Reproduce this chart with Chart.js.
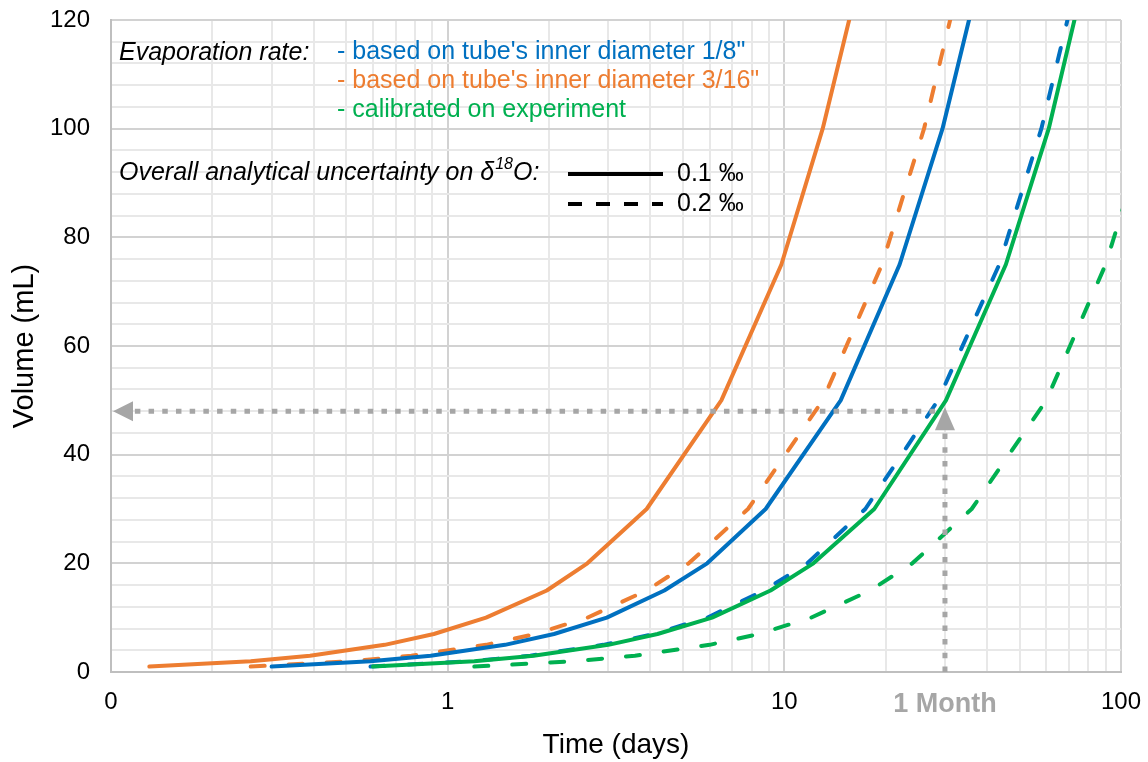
<!DOCTYPE html>
<html>
<head>
<meta charset="utf-8">
<title>Evaporation volume vs time</title>
<script src="https://cdn.jsdelivr.net/npm/chart.js@4.4.1/dist/chart.umd.min.js"></script>
<style>
    html, body { margin: 0; padding: 0; background: #fff; }
    #wrap { width: 1148px; height: 762px; }
</style>
</head>
<body>
<div id="wrap"><canvas id="evapChart" width="1148" height="762"></canvas></div>
<script>
// Volume (mL) at each vertex of the curves
const volumes = [1, 2, 3, 5, 7, 10, 15, 20, 30, 50, 75, 100, 125];

// Time (days) for each curve, same order as volumes
const daysOrangeSolid = [0.13, 0.26, 0.39, 0.65, 0.91, 1.3, 1.97, 2.6, 3.9, 6.5, 9.8, 13, 16.3];
const daysOrangeDashed = [0.26, 0.52, 0.78, 1.3, 1.82, 2.6, 3.9, 5.2, 7.8, 13, 19.5, 26, 32.5];
const daysBlueSolid = [0.3, 0.59, 0.89, 1.48, 2.07, 2.97, 4.4, 5.9, 8.8, 14.7, 22, 29.5, 37];
const daysBlueDashed = [0.59, 1.17, 1.76, 2.9, 4.1, 5.9, 8.7, 11.7, 17.4, 28.6, 43.5, 58, 72.5];
const daysGreenSolid = [0.6, 1.2, 1.8, 3.0, 4.2, 6.1, 9.1, 12.2, 18.5, 30.2, 45.5, 61, 76];
const daysGreenDashed = [1.2, 2.4, 3.6, 6.0, 8.4, 12, 18, 24, 36, 60, 90, 120, 150];

// Axis ticks
const xTickValues = [0.1, 1, 10, 30, 100];
const xTickLabels = ['0', '1', '10', '1 Month', '100'];
const yTickLabels = [0, 20, 40, 60, 80, 100, 120];

// "1 Month" read-off
const monthDays = 30;
const monthVolume = 48;

// Legend texts
const rateTitle = 'Evaporation rate:';
const rateLabels = [
    '- based on tube\'s inner diameter 1/8"',
    '- based on tube\'s inner diameter 3/16"',
    '- calibrated on experiment'
];
const uncertaintyLabels = ['0.1 \u2030', '0.2 \u2030'];

const BLUE = '#0070C0';
const ORANGE = '#ED7D31';
const GREEN = '#00B050';
const GREY = '#a6a6a6';
const FONT = '"Liberation Sans", Arial, sans-serif';

Chart.defaults.font.family = FONT;
Chart.defaults.color = '#000';

function toPoints(days) {
    return days.map((d, i) => ({ x: d, y: volumes[i] }));
}

function curve(days, color, dashed) {
    return {
        data: toPoints(days),
        borderColor: color,
        backgroundColor: color,
        borderWidth: 4,
        borderDash: dashed ? [14, 24] : [],
        borderCapStyle: 'round',
        borderJoinStyle: 'round',
        pointRadius: 0,
        tension: 0,
        fill: false
    };
}

// gridlines for the log axis: 1..9 of every decade
function logGridValues(min, max) {
    const vals = [];
    for (let dec = min; dec < max; dec *= 10) {
        for (let k = 1; k < 10; k++) vals.push(parseFloat((k * dec).toPrecision(6)));
    }
    vals.push(max);
    return vals;
}

function isDecade(v) {
    const l = Math.log10(v);
    return Math.abs(l - Math.round(l)) < 1e-6;
}

function xLabelFor(v) {
    const i = xTickValues.findIndex(t => Math.abs(t - v) < 1e-6);
    return i >= 0 ? xTickLabels[i] : '';
}

// keep tick labels from pushing the plot area inwards
function noOverflow(scale) {
    scale.paddingTop = 0;
    scale.paddingBottom = 0;
    scale.paddingLeft = 0;
    scale.paddingRight = 0;
}

const overlayPlugin = {
    id: 'overlay',
    afterDatasetsDraw(chart) {
        const { ctx, scales: { x, y } } = chart;
        const px = x.getPixelForValue(monthDays);
        const py = y.getPixelForValue(monthVolume);
        const bottom = y.getPixelForValue(0);
        const left = x.left;

        ctx.save();
        ctx.strokeStyle = GREY;
        ctx.fillStyle = GREY;
        ctx.lineWidth = 5;
        ctx.setLineDash([5.5, 8.2]);
        // vertical dotted line up to the curve
        ctx.beginPath();
        ctx.moveTo(px, bottom);
        ctx.lineTo(px, py + 18);
        ctx.stroke();
        // horizontal dotted line back to the volume axis
        ctx.beginPath();
        ctx.moveTo(px - 10, py);
        ctx.lineTo(left + 22, py);
        ctx.stroke();
        ctx.setLineDash([]);
        // arrow heads
        ctx.beginPath();
        ctx.moveTo(px, py - 4);
        ctx.lineTo(px - 10, py + 19);
        ctx.lineTo(px + 10, py + 19);
        ctx.closePath();
        ctx.fill();
        ctx.beginPath();
        ctx.moveTo(left + 2, py);
        ctx.lineTo(left + 22, py - 10);
        ctx.lineTo(left + 22, py + 10);
        ctx.closePath();
        ctx.fill();
        ctx.restore();
    },
    afterDraw(chart) {
        const ctx = chart.ctx;
        ctx.save();
        ctx.textBaseline = 'middle';
        ctx.textAlign = 'left';

        ctx.fillStyle = '#000';
        ctx.font = 'italic 25px ' + FONT;
        ctx.fillText(rateTitle, 119, 53);

        ctx.font = '25px ' + FONT;
        const rateColors = [BLUE, ORANGE, GREEN];
        const rateY = [52, 81, 110];
        rateLabels.forEach((t, i) => {
            ctx.fillStyle = rateColors[i];
            ctx.fillText(t, 337, rateY[i]);
        });

        // "Overall analytical uncertainty on δ18O:"
        ctx.fillStyle = '#000';
        ctx.font = 'italic 25px ' + FONT;
        let tx = 119;
        const ty = 173;
        const part1 = 'Overall analytical uncertainty on \u03B4';
        ctx.fillText(part1, tx, ty);
        tx += ctx.measureText(part1).width;
        ctx.font = 'italic 16px ' + FONT;
        ctx.fillText('18', tx + 1, ty - 8);
        tx += ctx.measureText('18').width + 1;
        ctx.font = 'italic 25px ' + FONT;
        ctx.fillText('O:', tx, ty);

        // line style samples
        ctx.strokeStyle = '#000';
        ctx.lineWidth = 4;
        ctx.beginPath();
        ctx.moveTo(568, 174);
        ctx.lineTo(663, 174);
        ctx.stroke();
        ctx.setLineDash([14, 14]);
        ctx.beginPath();
        ctx.moveTo(568, 204);
        ctx.lineTo(663, 204);
        ctx.stroke();
        ctx.setLineDash([]);

        ctx.font = '25px ' + FONT;
        ctx.fillText(uncertaintyLabels[0], 677, 174);
        ctx.fillText(uncertaintyLabels[1], 677, 204);
        ctx.restore();
    }
};

const ctx = document.getElementById('evapChart').getContext('2d');
new Chart(ctx, {
    type: 'line',
    data: {
        datasets: [
            curve(daysGreenSolid, GREEN, false),
            curve(daysBlueDashed, BLUE, true),
            curve(daysBlueSolid, BLUE, false),
            curve(daysOrangeDashed, ORANGE, true),
            curve(daysOrangeSolid, ORANGE, false),
            curve(daysGreenDashed, GREEN, true)
        ]
    },
    options: {
        responsive: false,
        animation: false,
        devicePixelRatio: 1,
        layout: { padding: { top: 20, right: 27, left: 0, bottom: 0 } },
        plugins: {
            legend: { display: false },
            tooltip: { enabled: false }
        },
        scales: {
            x: {
                type: 'logarithmic',
                min: 0.1,
                max: 100,
                afterBuildTicks(scale) {
                    scale.ticks = logGridValues(0.1, 100).map(v => ({ value: v }));
                },
                afterFit(scale) {
                    scale.height = 90;
                    noOverflow(scale);
                },
                ticks: {
                    autoSkip: false,
                    maxRotation: 0,
                    padding: 16,
                    callback: (v) => xLabelFor(v),
                    color: (c) => (c.tick && Math.abs(c.tick.value - monthDays) < 1e-6) ? GREY : '#000',
                    font: (c) => (c.tick && Math.abs(c.tick.value - monthDays) < 1e-6)
                        ? { size: 27, weight: 'bold' }
                        : { size: 24 }
                },
                grid: {
                    drawTicks: false,
                    lineWidth: 2,
                    color: (c) => (c.tick && isDecade(c.tick.value)) ? '#d2d2d2' : '#e8e8e8'
                },
                border: { color: '#bfbfbf', width: 2 },
                title: {
                    display: true,
                    text: 'Time (days)',
                    font: { size: 28 },
                    padding: { top: 0, bottom: 0 }
                }
            },
            y: {
                min: 0,
                max: 120,
                afterFit(scale) {
                    scale.width = 111;
                    noOverflow(scale);
                },
                ticks: {
                    stepSize: 4,
                    autoSkip: false,
                    padding: 21,
                    font: { size: 24 },
                    callback: (v) => yTickLabels.includes(v) ? String(v) : ''
                },
                grid: {
                    drawTicks: false,
                    lineWidth: 2,
                    color: (c) => (c.tick && c.tick.value % 20 === 0) ? '#d2d2d2' : '#e8e8e8'
                },
                border: { color: '#bfbfbf', width: 2 },
                title: {
                    display: true,
                    text: 'Volume (mL)',
                    font: { size: 29 },
                    padding: { top: 8, bottom: 0 }
                }
            }
        }
    },
    plugins: [overlayPlugin]
});
</script>
</body>
</html>
